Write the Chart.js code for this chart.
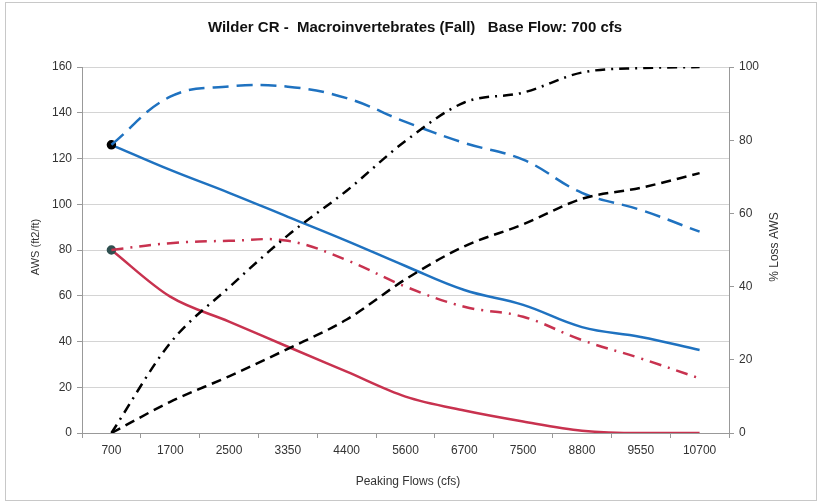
<!DOCTYPE html>
<html>
<head>
<meta charset="utf-8">
<script src="https://cdn.jsdelivr.net/npm/chart.js@4"></script>
<style>
html,body{margin:0;padding:0;background:#fff;}
#wrap{width:818px;height:504px;position:relative;}
</style>
</head>
<body>
<div id="wrap"><canvas id="c" width="818" height="504"></canvas></div>
<script>
const categories = ['700','1700','2500','3350','4400','5600','6700','7500','8800','9550','10700'];
const awsHighFlow = [126,115,105,94.5,84,73,62.5,56,46.3,42,36.3];      // blue solid
const awsBaseFlow = [126,147,151.5,151.4,146.4,136,126.8,119.5,105,97.5,88]; // blue dashed
const awsHighFlow2 = [80,59.6,48.7,37.7,26.8,15.9,9.8,5,1,0,0];        // red solid
const awsBaseFlow2 = [80,83,84,84,75.6,64,55.2,50.8,40.6,32.6,23.9];     // red dash-dot
const pctLoss1 = [0,8.5,15.5,23,31,42,51,57,64,67,71];                  // black dashed
const pctLoss2 = [0,24.6,39.8,54,66.2,79.8,90.3,93,98.5,99.7,100];      // black dash-dot
const leftTicks = [0,20,40,60,80,100,120,140,160];
const rightTicks = [0,20,40,60,80,100];

const titleText = 'Wilder CR -  Macroinvertebrates (Fall)   Base Flow: 700 cfs';
const xTitle = 'Peaking Flows (cfs)';
const yTitle = 'AWS (ft2/ft)';
const y2Title = '% Loss AWS';

const BLUE = '#1f72c0';
const RED = '#c8324f';
const BLACK = '#000000';
const FONT = '"Liberation Sans", Arial, sans-serif';

function firstOnly(r, n){ const a = new Array(n).fill(0); a[0] = r; return a; }

const textPlugin = {
  id: 'texts',
  beforeDraw(chart){
    const ctx = chart.ctx;
    ctx.save();
    ctx.fillStyle = '#fff';
    ctx.fillRect(0,0,chart.width,chart.height);
    ctx.strokeStyle = '#c8c8c8';
    ctx.lineWidth = 1;
    ctx.strokeRect(5.5,2.5,811,498);
    ctx.restore();
  },
  afterDraw(chart){
    const ctx = chart.ctx;
    ctx.save();
    ctx.fillStyle = '#111';
    ctx.font = 'bold 15px ' + FONT;
    ctx.textAlign = 'center';
    ctx.textBaseline = 'middle';
    ctx.fillText(titleText, 415, 28);
    ctx.fillStyle = '#333';
    ctx.font = '12px ' + FONT;
    ctx.fillText(xTitle, 408, 482);
    ctx.save();
    ctx.translate(36, 247);
    ctx.rotate(-Math.PI/2);
    ctx.font = '11px ' + FONT;
    ctx.fillText(yTitle, 0, 0);
    ctx.restore();
    ctx.save();
    ctx.translate(775, 247);
    ctx.rotate(-Math.PI/2);
    ctx.font = '12px ' + FONT;
    ctx.fillText(y2Title, 0, 0);
    ctx.restore();
    ctx.restore();
  }
};

const n = categories.length;
new Chart(document.getElementById('c'), {
  type: 'line',
  data: {
    labels: categories,
    datasets: [
      { data: pctLoss1, yAxisID: 'y2', borderColor: BLACK, borderWidth: 2.5, borderDash: [10,6], pointRadius: 0, tension: 0.4, cubicInterpolationMode: 'monotone', fill: false },
      { data: pctLoss2, yAxisID: 'y2', borderColor: BLACK, borderWidth: 2.5, borderDash: [10,6,2,6], pointRadius: 0, tension: 0.4, cubicInterpolationMode: 'monotone', fill: false },
      { data: awsBaseFlow, yAxisID: 'y', borderColor: BLUE, borderWidth: 2.5, borderDash: [16,8], pointRadius: 0, tension: 0.4, fill: false },
      { data: awsBaseFlow2, yAxisID: 'y', borderColor: RED, borderWidth: 2.5, borderDash: [12,7,2,7], pointRadius: 0, tension: 0.4, fill: false },
      { data: awsHighFlow, yAxisID: 'y', borderColor: BLUE, borderWidth: 2.5, pointRadius: firstOnly(3.5,n), pointBackgroundColor: '#000', pointBorderColor: '#000', tension: 0.4, fill: false },
      { data: awsHighFlow2, yAxisID: 'y', borderColor: RED, borderWidth: 2.5, pointRadius: firstOnly(3.5,n), pointBackgroundColor: '#2f5050', pointBorderColor: '#2f5050', tension: 0.4, cubicInterpolationMode: 'monotone', fill: false }
    ]
  },
  options: {
    responsive: false,
    animation: false,
    devicePixelRatio: 1,
    layout: { padding: { top: 67, left: 0, right: 0, bottom: 0 } },
    plugins: { legend: { display: false }, tooltip: { enabled: false }, title: { display: false } },
    scales: {
      x: {
        type: 'category',
        offset: true,
        grid: { display: true, drawOnChartArea: false, drawTicks: true, tickLength: 5, offset: true, color: '#999' },
        border: { display: true, color: '#999' },
        ticks: { color: '#333', font: { family: FONT, size: 12 }, padding: 5, maxRotation: 0, autoSkip: false },
        afterFit(s){ s.height = 71; }
      },
      y: {
        position: 'left',
        min: 0, max: 160,
        afterBuildTicks(s){ s.ticks = leftTicks.map(v => ({ value: v })); },
        grid: { color: '#d4d4d4', tickLength: 5, tickColor: '#999', lineWidth: 1 },
        border: { display: true, color: '#999' },
        ticks: { color: '#333', font: { family: FONT, size: 12 }, padding: 5 },
        afterFit(s){ s.width = 82; }
      },
      y2: {
        position: 'right',
        min: 0, max: 100,
        afterBuildTicks(s){ s.ticks = rightTicks.map(v => ({ value: v })); },
        grid: { drawOnChartArea: false, tickLength: 5, color: '#999' },
        border: { display: true, color: '#999' },
        ticks: { color: '#333', font: { family: FONT, size: 12 }, padding: 5 },
        afterFit(s){ s.width = 89; }
      }
    }
  },
  plugins: [textPlugin]
});
</script>
</body>
</html>
